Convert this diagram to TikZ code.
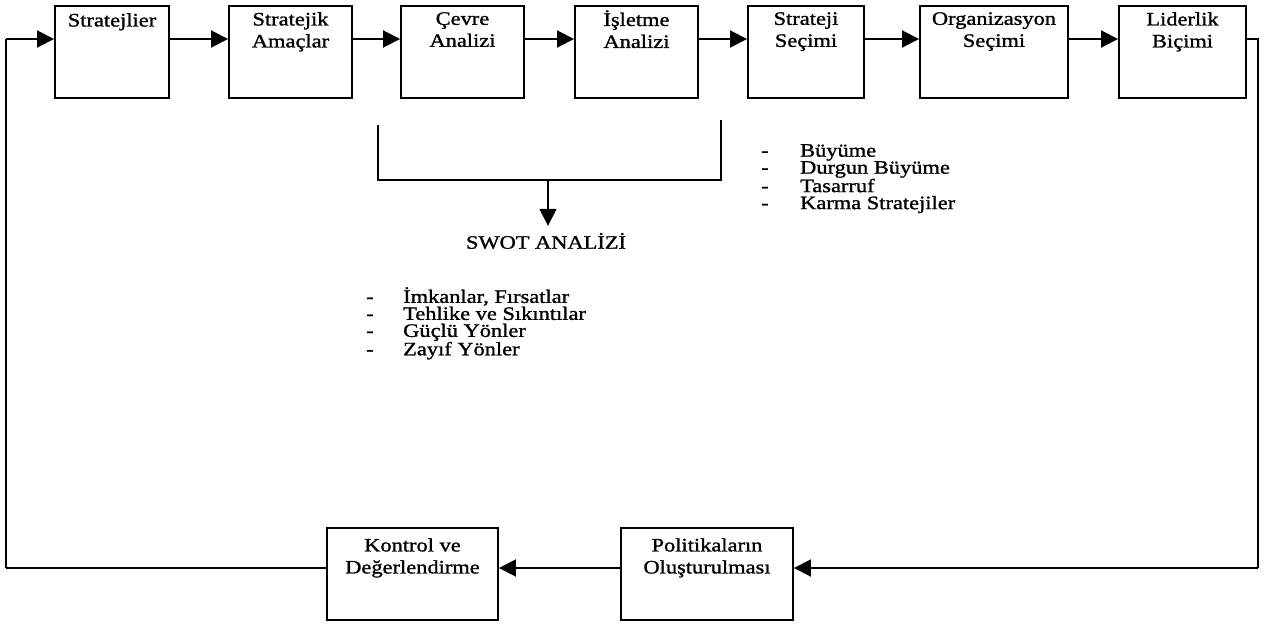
\documentclass[tikz,border=0pt]{standalone}
\usepackage{fontspec}
\setmainfont{Liberation Serif}[FakeStretch=1.18,FakeBold=1.2]
\usetikzlibrary{arrows.meta}
\usetikzlibrary{positioning}

\tikzset{
  box/.style={draw, line width=1.9pt, minimum height=92pt, inner sep=0pt},
  lab/.style={align=center, inner sep=0pt, font=\fontsize{19}{22}\selectfont},
  items/.style={align=left, inner sep=0pt, anchor=north west, font=\fontsize{19}{17}\selectfont},
  flow/.style={-{Triangle[length=17pt,width=17pt]}, line width=1.9pt},
  wire/.style={line width=1.5pt}
}

\begin{document}
\begin{tikzpicture}[x=1pt,y=-1pt]
    \useasboundingbox (0,0) rectangle (1264,624);

    % top row of boxes
    \node[box, minimum width=114pt] (strat) at (112,52) {};
    \node[lab, below=8pt of strat.north] (strat-t) {Stratejlier};
    \node[box, minimum width=123pt] (amac) at (290.5,52) {};
    \node[lab, below=7pt of amac.north] (amac-t) {Stratejik\\Amaçlar};
    \node[box, minimum width=123pt] (cevre) at (462.5,52) {};
    \node[lab, below=7pt of cevre.north] (cevre-t) {Çevre\\Analizi};
    \node[box, minimum width=123pt] (islet) at (636.5,52) {};
    \node[lab, below=5pt of islet.north] (islet-t) {İşletme\\Analizi};
    \node[box, minimum width=116pt] (secim) at (806,52) {};
    \node[lab, below=7pt of secim.north] (secim-t) {Strateji\\Seçimi};
    \node[box, minimum width=148pt] (org) at (994,52) {};
    \node[lab, below=7pt of org.north] (org-t) {Organizasyon\\Seçimi};
    \node[box, minimum width=127pt] (lider) at (1182.5,52) {};
    \node[lab, below=7pt of lider.north] (lider-t) {Liderlik\\Biçimi};

    % bottom row of boxes
    \node[box, minimum width=171pt] (kont) at (412.5,574) {};
    \node[lab, below=11pt of kont.north] (kont-t) {Kontrol ve\\Değerlendirme};
    \node[box, minimum width=172pt] (polit) at (707,574) {};
    \node[lab, below=11pt of polit.north] (polit-t) {Politikaların\\Oluşturulması};

    % corners of the loop
    \coordinate (tl) at (6,39);
    \coordinate (tr) at (1258,39);
    \coordinate (br) at (1258,568);
    \coordinate (bl) at (6,568);

    % loop
    \draw[wire] (bl) -- (tl);
    \draw[flow] (tl) -- (tl -| strat.west);
    \draw[flow] (strat.east |- tl) -- (amac.west |- tl);
    \draw[flow] (amac.east |- tl) -- (cevre.west |- tl);
    \draw[flow] (cevre.east |- tl) -- (islet.west |- tl);
    \draw[flow] (islet.east |- tl) -- (secim.west |- tl);
    \draw[flow] (secim.east |- tl) -- (org.west |- tl);
    \draw[flow] (org.east |- tl) -- (lider.west |- tl);
    \draw[wire] (lider.east |- tl) -- (tr) -- (br);
    \draw[flow] (br) -- (br -| polit.east);
    \draw[flow] (polit.west |- br) -- (kont.east |- br);
    \draw[wire] (kont.west |- br) -- (bl);

    % bracket to SWOT
    \coordinate (bkl) at (378,125);
    \coordinate (bkr) at (721,120);
    \coordinate (bkm) at (548,180);
    \draw[wire] (bkl) -- (bkl |- bkm) -- (bkr |- bkm) -- (bkr);
    \node[lab] (swot) at (546,241) {SWOT ANALİZİ};
    \draw[flow, line width=1.5pt, shorten >=7pt] (bkm) -- (bkm |- swot.north);

    % lists
    \node[items] (secim-l) at (761,144) {\makebox[39pt][l]{-}Büyüme\\
        \makebox[39pt][l]{-}Durgun Büyüme\\
        \makebox[39pt][l]{-}Tasarruf\\
        \makebox[39pt][l]{-}Karma Stratejiler};
    \node[items] (swot-l) at (366,287) {\makebox[37pt][l]{-}İmkanlar, Fırsatlar\\
        \makebox[37pt][l]{-}Tehlike ve Sıkıntılar\\
        \makebox[37pt][l]{-}Güçlü Yönler\\
        \makebox[37pt][l]{-}Zayıf Yönler};

\end{tikzpicture}
\end{document}
